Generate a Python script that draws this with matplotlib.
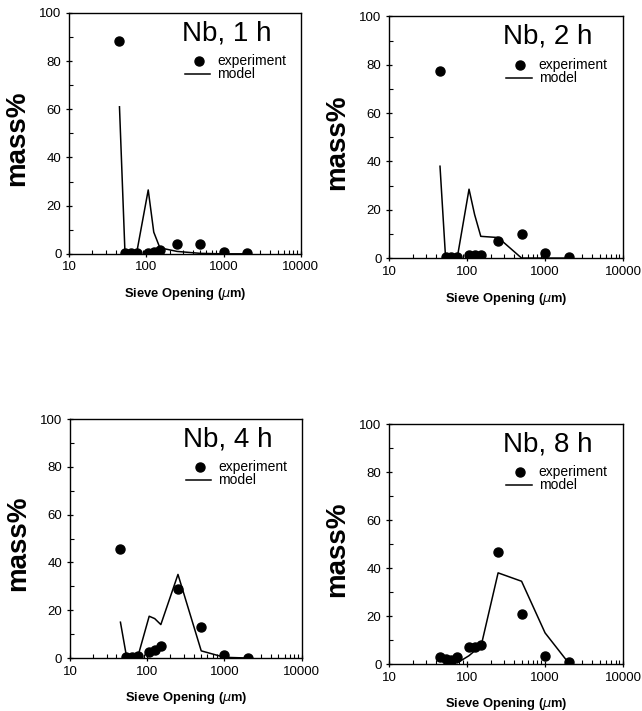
import numpy as np
import matplotlib
matplotlib.use('Agg')
import matplotlib.pyplot as plt
from matplotlib.ticker import LogLocator, MultipleLocator, NullFormatter, FixedLocator, FixedFormatter

plt.rcParams['font.family'] = ['Liberation Sans', 'DejaVu Sans']

sieve = [45, 53, 63, 75, 106, 125, 150, 250, 500, 1000, 2000]
titles = ['Nb, 1 h', 'Nb, 2 h', 'Nb, 4 h', 'Nb, 8 h']

exp_1h = [88.5, 0.5, 0.3, 0.5, 0.5, 0.8, 1.5, 4.0, 4.0, 0.8, 0.3]
mod_1h = [61, 0.5, 0.3, 0.3, 26.5, 9, 2.5, 1.0, 0.2, 0.0, 0.0]

exp_2h = [77.5, 0.5, 0.5, 0.5, 1.3, 1.3, 1.3, 7.0, 10.0, 2.0, 0.3]
mod_2h = [38, 0.3, 0.3, 0.3, 28.5, 18, 9, 8.5, 0.0, 0.0, 0.0]

exp_4h = [45.5, 0.5, 0.5, 1.0, 2.5, 3.5, 5.0, 29.0, 13.0, 1.2, 0.2]
mod_4h = [15, 2, 0.2, 0.2, 17.5, 16.5, 14, 35, 3.0, 0.3, 0.0]

exp_8h = [3.0, 2.0, 1.5, 3.0, 7.0, 7.0, 8.0, 46.5, 21.0, 3.5, 1.0]
mod_8h = [2.0, 1.0, 0.5, 0.5, 3.5, 5.5, 7.0, 38, 34.5, 13, 0.5]

exps = [exp_1h, exp_2h, exp_4h, exp_8h]
mods = [mod_1h, mod_2h, mod_4h, mod_8h]

# axes boxes in figure fraction: left, bottom, width, height
boxes = [[0.1075, 0.643, 0.361, 0.339],
         [0.606, 0.637, 0.3645, 0.340],
         [0.109, 0.0745, 0.361, 0.336],
         [0.606, 0.066, 0.3645, 0.3376]]

fig = plt.figure(figsize=(6.42, 7.11), dpi=100)

for i in range(4):
    ax = fig.add_axes(boxes[i])
    ax.plot(sieve, mods[i], color='black', lw=1.1, zorder=2)
    ax.plot(sieve, exps[i], 'o', color='black', ms=6.5, zorder=3)
    ax.set_xscale('log')
    ax.set_xlim(10, 10000)
    ax.set_ylim(0, 100)
    ax.xaxis.set_major_locator(FixedLocator([10, 100, 1000, 10000]))
    ax.xaxis.set_major_formatter(FixedFormatter(['10', '100', '1000', '10000']))
    ax.xaxis.set_minor_locator(LogLocator(base=10, subs=np.arange(2, 10)))
    ax.xaxis.set_minor_formatter(NullFormatter())
    ax.yaxis.set_major_locator(MultipleLocator(20))
    ax.yaxis.set_minor_locator(MultipleLocator(10))
    ax.tick_params(which='major', direction='inout', length=5, width=0.9, labelsize=9.5, pad=3)
    ax.tick_params(which='minor', direction='in', length=3, width=0.8)
    for sp in ax.spines.values():
        sp.set_linewidth(1.0)
    ax.set_ylabel('mass%', fontsize=20, fontweight='bold')
    ax.yaxis.set_label_coords(-0.168, 0.48)
    ax.set_xlabel('Sieve Opening ($\\mu$m)', fontsize=9.3, fontweight='bold')
    ax.xaxis.set_label_coords(0.5, -0.135)
    ax.text(0.68, 0.915, titles[i], transform=ax.transAxes, fontsize=20,
            ha='center', va='center')
    # legend drawn by hand to match the original layout
    ax.plot([0.56], [0.80], 'o', color='black', ms=6.5, transform=ax.transAxes, clip_on=False)
    ax.text(0.64, 0.80, 'experiment', transform=ax.transAxes, fontsize=10, va='center')
    ax.plot([0.50, 0.61], [0.745, 0.745], color='black', lw=1.1, transform=ax.transAxes)
    ax.text(0.64, 0.745, 'model', transform=ax.transAxes, fontsize=10, va='center')

fig.savefig('out.png', dpi=100)
